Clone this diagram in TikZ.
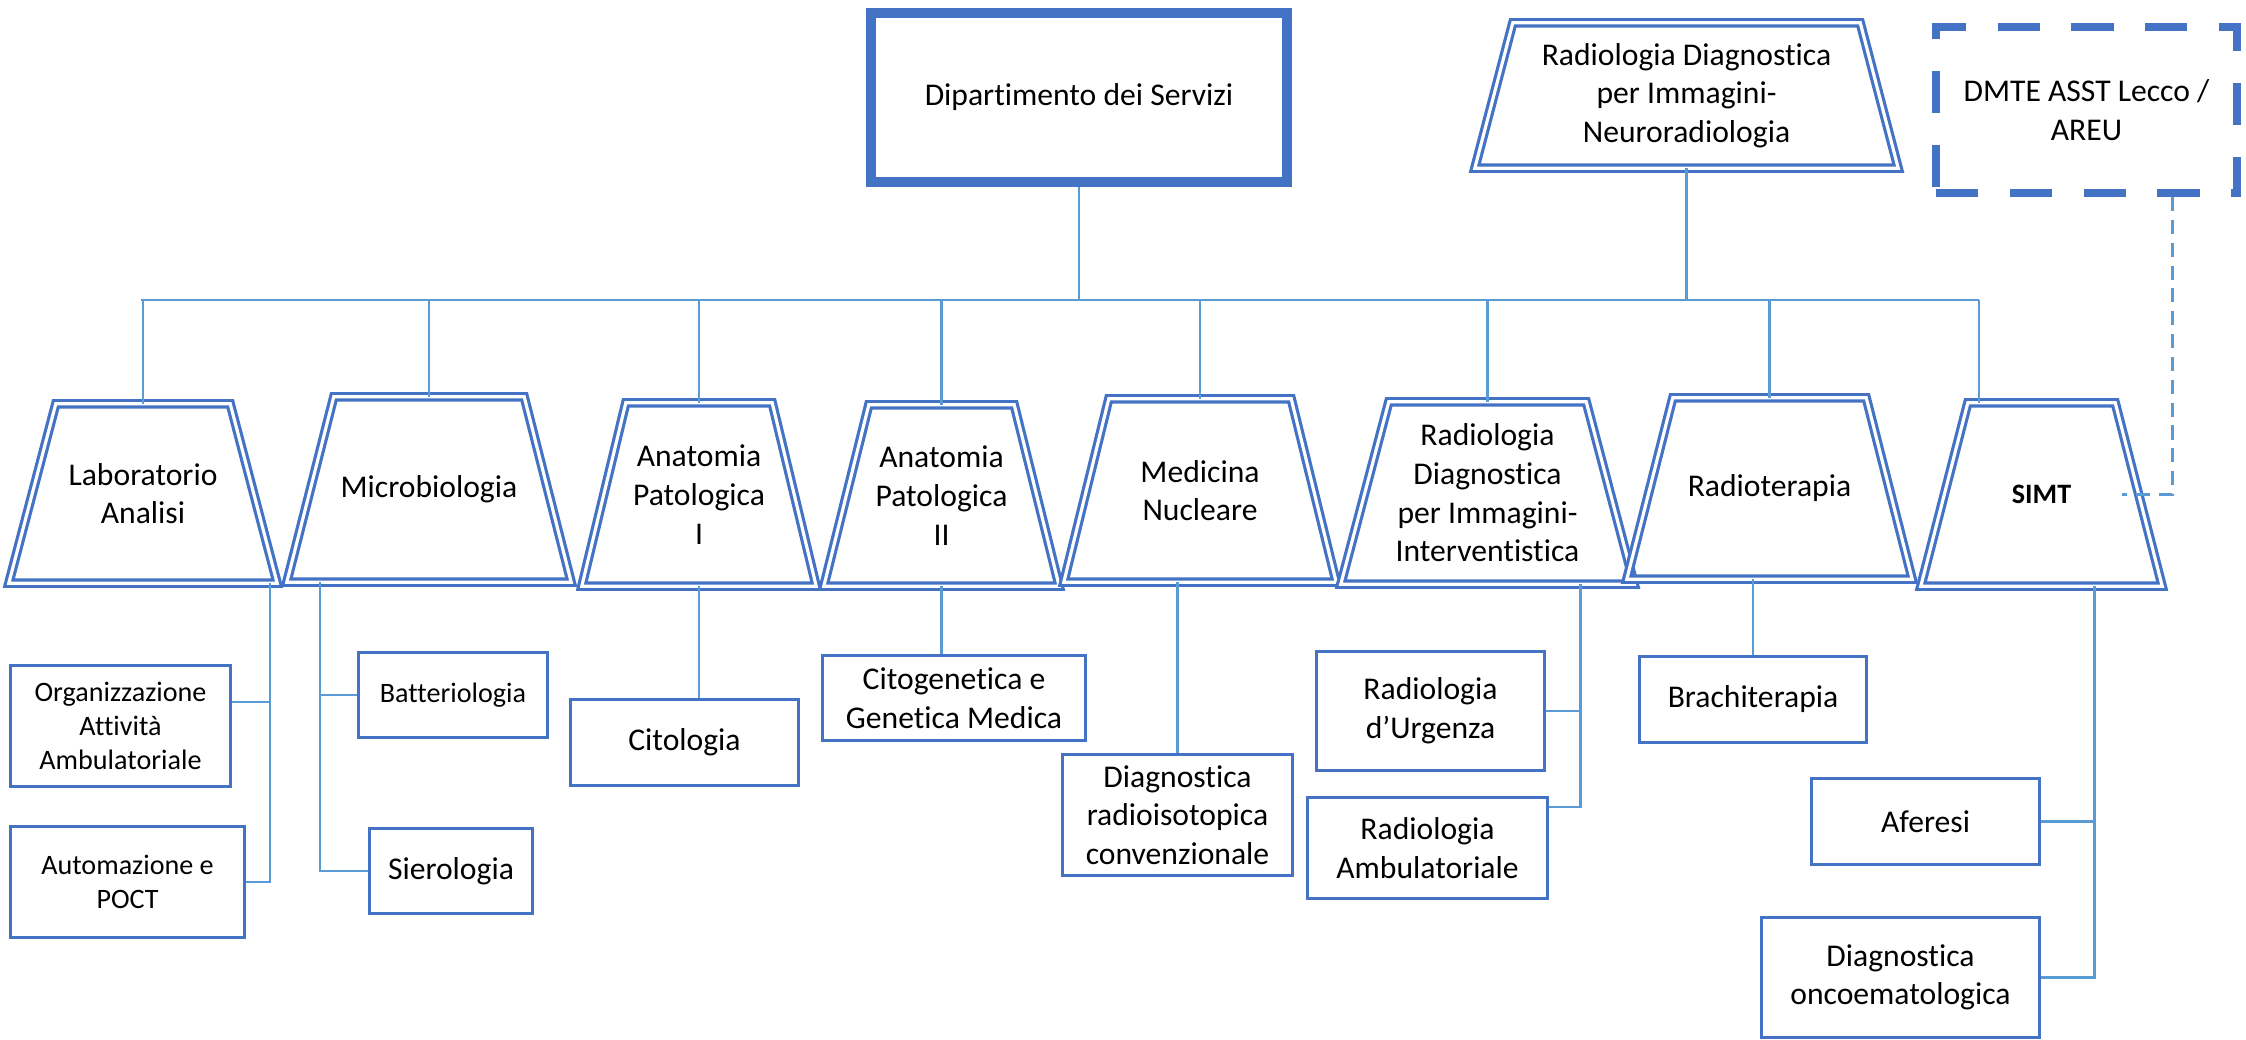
\documentclass[tikz,border=0pt]{standalone}
\usepackage{fontspec}
\setmainfont{Carlito}[RawFeature={-liga;-clig;-calt}]
\usepackage{tikz}

\definecolor{boxblue}{HTML}{4472C4}
\definecolor{linkblue}{HTML}{5B9BD5}

\begin{document}
\begin{tikzpicture}[
    unit/.style={rectangle, align=center, inner sep=2pt, font=\fontsize{9}{11}\selectfont},
    unitline/.style={draw=boxblue, line width=0.9pt, double=white, double distance=0.9pt},
    sub/.style={rectangle, draw=boxblue, line width=0.8pt, align=center,
      inner sep=2pt, font=\fontsize{9}{11}\selectfont},
    small/.style={font=\fontsize{8}{9.6}\selectfont},
    link/.style={draw=linkblue, line width=0.7pt},
    extlink/.style={draw=linkblue, line width=0.7pt, dash pattern=on 4pt off 2.5pt}
  ]
  \useasboundingbox (0,0) rectangle (22.46,10.40);

  % 部門
  \node[draw=boxblue, line width=2.85pt, minimum width=4.16cm, minimum height=1.69cm,
    font=\fontsize{9}{11}\selectfont] (dip) at (10.79,9.425) {Dipartimento dei Servizi};
  \node[unit, minimum width=4.22cm, minimum height=1.44cm] (neuro) at (16.865,9.445)
    {Radiologia Diagnostica\\per Immagini-\\Neuroradiologia};
  \node[draw=boxblue, line width=2.3pt, dash pattern=on 12pt off 9pt,
    minimum width=3.01cm, minimum height=1.66cm, align=center,
    font=\fontsize{9}{11}\selectfont] (dmte) at (20.865,9.30) {DMTE ASST Lecco /\\AREU};

  % 単位
  \node[unit, minimum width=2.67cm, minimum height=1.78cm] (lab) at (1.43,5.465) {Laboratorio\\Analisi};
  \node[unit, minimum width=2.83cm, minimum height=1.84cm] (micro) at (4.29,5.505) {Microbiologia};
  \node[unit, minimum width=2.33cm, minimum height=1.82cm] (anat1) at (6.99,5.455) {Anatomia\\Patologica\\I};
  \node[unit, minimum width=2.34cm, minimum height=1.80cm] (anat2) at (9.415,5.445) {Anatomia\\Patologica\\II};
  \node[unit, minimum width=2.71cm, minimum height=1.82cm] (mednuc) at (12.00,5.495) {Medicina\\Nucleare};
  \node[unit, minimum width=2.92cm, minimum height=1.81cm] (radint) at (14.875,5.47)
    {Radiologia\\Diagnostica\\per Immagini-\\Interventistica};
  \node[unit, minimum width=2.84cm, minimum height=1.80cm] (radiot) at (17.695,5.515) {Radioterapia};
  \node[unit, minimum width=2.40cm, minimum height=1.82cm,
    font=\fontsize{8}{9.6}\selectfont\bfseries] (simt) at (20.415,5.455) {SIMT};

  % 台形
  \foreach \dept/\s in {lab/0.47,micro/0.47,anat1/0.44,anat2/0.45,mednuc/0.45,
      radint/0.48,radiot/0.46,simt/0.47,neuro/0.38}
    \draw[unitline] (\dept.south west) -- ([xshift=\s cm]\dept.north west)
      -- ([xshift=-\s cm]\dept.north east) -- (\dept.south east) -- cycle;

  % 下位
  \node[sub, small, minimum width=2.20cm, minimum height=1.21cm] (org) at (1.205,3.14) {Organizzazione\\Attività\\Ambulatoriale};
  \node[sub, small, minimum width=2.34cm, minimum height=1.11cm] (poct) at (1.275,1.58) {Automazione e\\POCT};
  \node[sub, small, minimum width=1.89cm, minimum height=0.85cm] (batt) at (4.53,3.45) {Batteriologia};
  \node[sub, minimum width=1.63cm, minimum height=0.85cm] (siero) at (4.51,1.69) {Sierologia};
  \node[sub, minimum width=2.28cm, minimum height=0.86cm] (cito) at (6.845,2.975) {Citologia};
  \node[sub, minimum width=2.63cm, minimum height=0.85cm] (citogen) at (9.54,3.42) {Citogenetica e\\Genetica Medica};
  \node[sub, minimum width=2.30cm, minimum height=1.21cm] (radioiso) at (11.775,2.25) {Diagnostica\\radioisotopica\\convenzionale};
  \node[sub, minimum width=2.28cm, minimum height=1.19cm] (urg) at (14.305,3.29) {Radiologia\\d’Urgenza};
  \node[sub, minimum width=2.40cm, minimum height=1.01cm] (ambul) at (14.275,1.92) {Radiologia\\Ambulatoriale};
  \node[sub, minimum width=2.27cm, minimum height=0.86cm] (brachi) at (17.53,3.405) {Brachiterapia};
  \node[sub, minimum width=2.28cm, minimum height=0.86cm] (aferesi) at (19.255,2.185) {Aferesi};
  \node[sub, minimum width=2.78cm, minimum height=1.20cm] (onco) at (19.005,0.625) {Diagnostica\\oncoematologica};

  % 接続線 (上)
  \coordinate (busW) at (1.41,7.40);
  \coordinate (busE) at (19.79,7.40);
  \draw[link] (busW) -- (busE);
  \draw[link] (dip.south) -- (dip.south |- busW);
  \draw[link] (neuro.south) -- (neuro.south |- busW);
  \foreach \dept in {lab,micro,anat1,anat2,mednuc,radint,radiot}
    \draw[link] (\dept.north |- busW) -- (\dept.north);
  \draw[link] (busE) -- (busE |- simt.north);

  % 接続線 (下)
  \draw[link] ([xshift=1.27cm]lab.south) |- (poct.east);
  \draw[link] ([yshift=0.24cm]org.east) -- ++(0.39,0);
  \draw[link] ([xshift=-1.09cm]micro.south) |- (siero.west);
  \draw[link] (batt.west) -- ++(-0.385,0);
  \draw[link] (anat1.south) -- (anat1.south |- cito.north);
  \draw[link] (anat2.south) -- (anat2.south |- citogen.north);
  \draw[link] (radioiso.north |- mednuc.south) -- (radioiso.north);
  \draw[link] ([xshift=0.93cm]radint.south) |- ([yshift=0.41cm]ambul.east);
  \draw[link] (urg.east) -- ++(0.355,0);
  \draw[link] (brachi.north |- radiot.south) -- (brachi.north);
  \draw[link] ([xshift=0.53cm]simt.south) |- (onco.east);
  \draw[link] (aferesi.east) -- ++(0.545,0);

  % 外部
  \draw[extlink] ([xshift=0.86cm]dmte.south) |- ([xshift=-0.40cm]simt.east);
\end{tikzpicture}
\end{document}
